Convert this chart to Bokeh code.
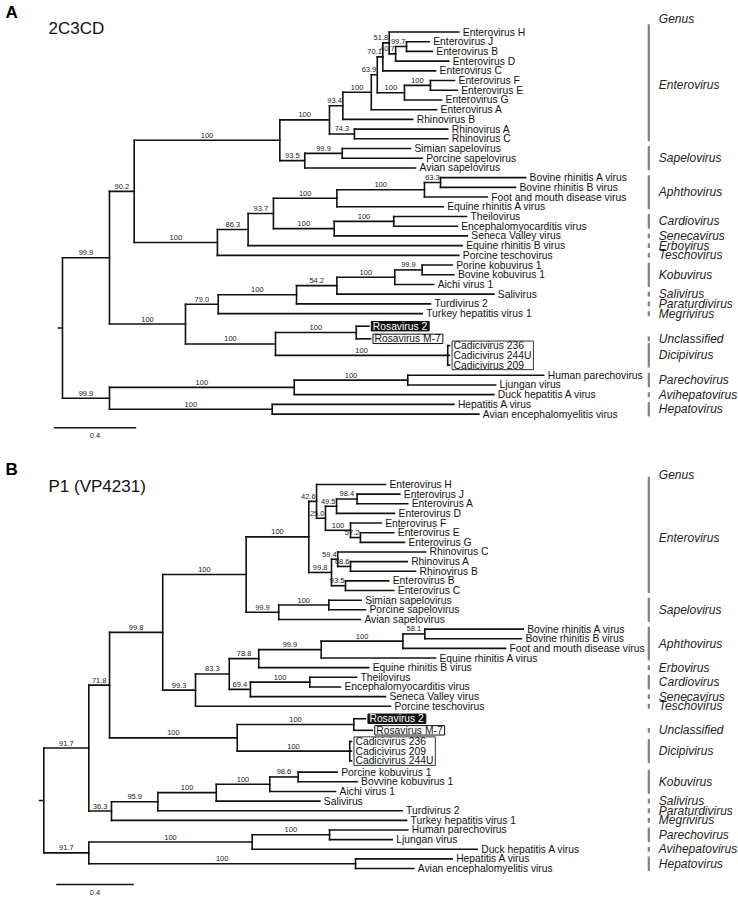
from bokeh.plotting import figure
from bokeh.layouts import column
from bokeh.models import Range1d
from bokeh.embed import file_html
from bokeh.resources import INLINE
from bokeh.core.properties import value

FONT = "Liberation Sans"

# ---------------- Panel A : 2C3CD ----------------
A_title = "2C3CD"
A_leaf_names = ["Enterovirus H", "Enterovirus J", "Enterovirus B", "Enterovirus D", "Enterovirus C",
                "Enterovirus F", "Enterovirus E", "Enterovirus G", "Enterovirus A", "Rhinovirus B",
                "Rhinovirus A", "Rhinovirus C", "Simian sapelovirus", "Porcine sapelovirus",
                "Avian sapelovirus", "Bovine rhinitis A virus", "Bovine rhinitis B virus",
                "Foot and mouth disease virus", "Equine rhinitis A virus", "Theilovirus",
                "Encephalomyocarditis virus", "Seneca Valley virus", "Equine rhinitis B virus",
                "Porcine teschovirus", "Porine kobuvirus 1", "Bovine kobuvirus 1", "Aichi virus 1",
                "Salivirus", "Turdivirus 2", "Turkey hepatitis virus 1", "Rosavirus 2", "Rosavirus M-7",
                "Cadicivirus 236", "Cadicivirus 244U", "Cadicivirus 209", "Human parechovirus",
                "Ljungan virus", "Duck hepatitis A virus", "Hepatitis A virus",
                "Avian encephalomyelitis virus"]
A_leaf_rows = [0, 1, 2, 3, 4, 5, 6, 7, 8, 9, 10, 11, 12, 13, 14, 15, 16, 17, 18, 19, 20, 21, 22, 23,
               24, 25, 26, 27, 28, 29, 30.3, 31.6, 32.3, 33.3, 34.3, 35.35, 36.35, 37.35, 38.35, 39.35]
A_leaf_depth = [1.924, 1.780, 1.795, 1.875, 1.811, 1.903, 1.916, 1.840, 1.816, 1.700, 1.870, 1.870,
                1.689, 1.746, 1.714, 2.248, 2.199, 2.062, 1.848, 1.961, 1.916, 1.965, 1.940, 1.924,
                1.892, 1.900, 1.802, 2.094, 1.786, 1.746, 1.487, 1.495, 1.879, 1.879, 1.879, 2.336,
                2.102, 2.094, 1.900, 2.021]
A_leaf_parent = ["n13", "n15", "n15", "n14", "n11", "n18", "n18", "n12", "n6", "n5", "n7", "n7",
                 "n9", "n9", "n8", "n24", "n24", "n23", "n21", "n25", "n25", "n22", "n19", "n17",
                 "n31", "n31", "n30", "n29", "n28", "n26", "n32", "n32", "n33", "n33", "n33",
                 "n37", "n37", "n35", "n36", "n36"]
A_node_ids = ["r", "n1", "n2", "n3", "n4", "n5", "n6", "n10", "n11", "n13", "n14", "n15", "n12",
              "n18", "n7", "n8", "n9", "n17", "n19", "n20", "n21", "n23", "n24", "n22", "n25",
              "n16", "n26", "n28", "n29", "n30", "n31", "n27", "n32", "n33", "n34", "n35", "n37",
              "n36"]
A_node_parent = [None, "r", "n1", "n2", "n3", "n4", "n5", "n6", "n10", "n11", "n13", "n14", "n10",
                 "n12", "n4", "n3", "n8", "n2", "n17", "n19", "n20", "n21", "n23", "n20", "n22",
                 "n1", "n16", "n26", "n28", "n29", "n30", "n16", "n27", "n27", "r", "n34", "n35",
                 "n34"]
A_node_depth = [0.0, 0.228, 0.348, 1.055, 1.296, 1.361, 1.499, 1.528, 1.555, 1.586, 1.617, 1.670,
                1.660, 1.786, 1.417, 1.176, 1.358, 0.752, 0.901, 1.024, 1.332, 1.757, 1.835, 1.319,
                1.608, 0.597, 0.756, 1.136, 1.332, 1.613, 1.746, 1.034, 1.426, 1.870, 0.228, 1.125,
                1.676, 1.018]
A_node_support = ["", "99.9", "90.2", "100", "100", "93.4", "100", "63.9", "70.1", "51.8", "40.7",
                  "99.7", "100", "100", "74.3", "93.5", "99.9", "100", "86.3", "93.7", "100", "100",
                  "63.3", "100", "100", "100", "79.0", "100", "54.2", "100", "99.9", "100", "100",
                  "100", "99.9", "100", "100", "100"]
A_genus_names = ["Enterovirus", "Sapelovirus", "Aphthovirus", "Cardiovirus", "Senecavirus",
                 "Erbovirus", "Teschovirus", "Kobuvirus", "Salivirus", "Paraturdivirus",
                 "Megrivirus", "Unclassified", "Dicipivirus", "Parechovirus", "Avihepatovirus",
                 "Hepatovirus"]
A_genus_first = ["Enterovirus H", "Simian sapelovirus", "Bovine rhinitis A virus", "Theilovirus",
                 "Seneca Valley virus", "Equine rhinitis B virus", "Porcine teschovirus",
                 "Porine kobuvirus 1", "Salivirus", "Turdivirus 2", "Turkey hepatitis virus 1",
                 "Rosavirus M-7", "Cadicivirus 236", "Human parechovirus", "Duck hepatitis A virus",
                 "Hepatitis A virus"]
A_genus_last = ["Rhinovirus C", "Avian sapelovirus", "Equine rhinitis A virus",
                "Encephalomyocarditis virus", "Seneca Valley virus", "Equine rhinitis B virus",
                "Porcine teschovirus", "Aichi virus 1", "Salivirus", "Turdivirus 2",
                "Turkey hepatitis virus 1", "Rosavirus M-7", "Cadicivirus 209", "Ljungan virus",
                "Duck hepatitis A virus", "Avian encephalomyelitis virus"]

# ---------------- Panel B : P1 (VP4231) ----------------
B_title = "P1 (VP4231)"
B_leaf_names = ["Enterovirus H", "Enterovirus J", "Enterovirus A", "Enterovirus D", "Enterovirus F",
                "Enterovirus E", "Enterovirus G", "Rhinovirus C", "Rhinovirus A", "Rhinovirus B",
                "Enterovirus B", "Enterovirus C", "Simian sapelovirus", "Porcine sapelovirus",
                "Avian sapelovirus", "Bovine rhinitis A virus", "Bovine rhinitis B virus",
                "Foot and mouth disease virus", "Equine rhinitis A virus", "Equine rhinitis B virus",
                "Theilovirus", "Encephalomyocarditis virus", "Seneca Valley virus",
                "Porcine teschovirus", "Rosavirus 2", "Rosavirus M-7", "Cadicivirus 236",
                "Cadicivirus 209", "Cadicivirus 244U", "Porcine kobuvirus 1", "Bovvine kobuvirus 1",
                "Aichi virus 1", "Salivirus", "Turdivirus 2", "Turkey hepatitis virus 1",
                "Human parechovirus", "Ljungan virus", "Duck hepatitis A virus", "Hepatitis A virus",
                "Avian encephalomyelitis virus"]
B_leaf_rows = [0, 1, 2, 3, 4, 5, 6, 7, 8, 9, 10, 11, 12, 13, 14, 15, 16, 17, 18, 19, 20, 21, 22, 23,
               24.3, 25.5, 26.66, 27.66, 28.66, 29.84, 30.84, 31.84, 32.84, 33.84, 34.84, 35.84,
               36.84, 37.84, 38.84, 39.84]
B_leaf_depth = [1.761, 1.835, 1.876, 1.808, 1.739, 1.804, 1.859, 1.968, 1.873, 1.916, 1.778, 1.804,
                1.636, 1.658, 1.632, 2.471, 2.462, 2.380, 2.019, 1.675, 1.612, 1.529, 1.761, 1.787,
                1.658, 1.693, 1.586, 1.586, 1.586, 1.512, 1.615, 1.504, 1.423, 1.847, 1.870, 1.876,
                1.796, 2.234, 2.105, 1.907]
B_leaf_parent = ["b7", "b10", "b10", "b9", "b11", "b12", "b12", "b14", "b16", "b16", "b15", "b15",
                 "b6", "b6", "b5", "b22", "b22", "b21", "b20", "b19", "b24", "b24", "b23", "b17",
                 "b26", "b26", "bc", "bc", "bc", "b31", "b31", "b30", "b29", "b28", "b27", "b34",
                 "b34", "b33", "b35", "b35"]
B_node_ids = ["r", "b0", "b1", "b2", "b3", "b4", "b7", "b8", "b9", "b10", "b11", "b12", "b13",
              "b14", "b16", "b15", "b5", "b6", "b17", "b18", "b19", "b20", "b21", "b22", "b23",
              "b24", "b25", "b26", "bc", "b27", "b28", "b29", "b30", "b31", "b32", "b33", "b34",
              "b35"]
B_node_parent = [None, "r", "b0", "b1", "b2", "b3", "b4", "b7", "b8", "b9", "b8", "b11", "b4",
                 "b13", "b14", "b13", "b3", "b5", "b2", "b17", "b18", "b19", "b20", "b21", "b18",
                 "b23", "b1", "b25", "b25", "b0", "b27", "b28", "b29", "b30", "r", "b32", "b33",
                 "b32"]
B_node_depth = [0.0, 0.232, 0.339, 0.613, 1.043, 1.366, 1.406, 1.452, 1.509, 1.615, 1.581, 1.632,
                1.483, 1.515, 1.581, 1.555, 1.211, 1.469, 0.782, 0.956, 1.108, 1.430, 1.851, 1.964,
                1.065, 1.371, 0.997, 1.598, 1.577, 0.349, 0.588, 0.889, 1.165, 1.311, 0.232, 1.074,
                1.473, 1.607]
B_node_support = ["", "91.7", "71.8", "99.8", "100", "100", "42.6", "25.0", "49.5", "98.4", "100",
                  "57.2", "99.8", "59.4", "68.6", "93.5", "99.9", "100", "99.3", "83.3", "78.8",
                  "99.9", "100", "58.1", "69.4", "100", "100", "100", "100", "36.3", "95.9", "100",
                  "100", "98.6", "91.7", "100", "100", "100"]
B_genus_names = ["Enterovirus", "Sapelovirus", "Aphthovirus", "Erbovirus", "Cardiovirus",
                 "Senecavirus", "Teschovirus", "Unclassified", "Dicipivirus", "Kobuvirus",
                 "Salivirus", "Paraturdivirus", "Megrivirus", "Parechovirus", "Avihepatovirus",
                 "Hepatovirus"]
B_genus_first = ["Enterovirus H", "Simian sapelovirus", "Bovine rhinitis A virus",
                 "Equine rhinitis B virus", "Theilovirus", "Seneca Valley virus",
                 "Porcine teschovirus", "Rosavirus M-7", "Cadicivirus 236", "Porcine kobuvirus 1",
                 "Salivirus", "Turdivirus 2", "Turkey hepatitis virus 1", "Human parechovirus",
                 "Duck hepatitis A virus", "Hepatitis A virus"]
B_genus_last = ["Enterovirus C", "Avian sapelovirus", "Equine rhinitis A virus",
                "Equine rhinitis B virus", "Encephalomyocarditis virus", "Seneca Valley virus",
                "Porcine teschovirus", "Rosavirus M-7", "Cadicivirus 244U", "Aichi virus 1",
                "Salivirus", "Turdivirus 2", "Turkey hepatitis virus 1", "Ljungan virus",
                "Duck hepatitis A virus", "Avian encephalomyelitis virus"]

highlight_filled = ["Rosavirus 2"]
highlight_outlined = ["Rosavirus M-7"]
group_outlined = ["Cadicivirus 236", "Cadicivirus 244U", "Cadicivirus 209"]
scale_length = 0.4

# Arial / Liberation Sans advance widths (1/1000 em) for box sizing
CW = {' ': 278, '.': 278, '-': 333, '(': 333, ')': 333, 'A': 667, 'B': 667, 'C': 722, 'D': 722,
      'E': 667, 'F': 611, 'G': 778, 'H': 722, 'J': 500, 'M': 833, 'P': 667, 'R': 722, 'S': 667,
      'T': 611, 'U': 722, 'V': 667, 'a': 556, 'b': 556, 'c': 500, 'd': 556, 'e': 556, 'f': 278,
      'g': 556, 'h': 556, 'i': 222, 'j': 222, 'k': 500, 'l': 222, 'm': 833, 'n': 556, 'o': 556,
      'p': 556, 'r': 333, 's': 500, 't': 278, 'u': 556, 'v': 500, 'w': 722, 'y': 500}


def tw(s, size):
    return sum(CW.get(c, 556) for c in s) * size / 1000.0


W = 738
LEAF_FS = 10.3
SUP_FS = 7.5
LC = "#111111"


def build(leaf_names, leaf_rows, leaf_depth, leaf_parent, node_ids, node_parent, node_depth):
    depth, ypos, parent = {}, {}, {}
    children = {n: [] for n in node_ids}
    for n, r, d, par in zip(leaf_names, leaf_rows, leaf_depth, leaf_parent):
        depth[n] = d
        ypos[n] = r
        parent[n] = par
        children[par].append(n)
    for n, par, d in zip(node_ids, node_parent, node_depth):
        depth[n] = d
        parent[n] = par
        if par is not None:
            children[par].append(n)

    def gy(n):
        if n not in ypos:
            ys = [gy(c) for c in children[n]]
            ypos[n] = (min(ys) + max(ys)) / 2.0
        return ypos[n]

    for n in node_ids:
        gy(n)
    return depth, ypos, parent, children


def panel(H, x0, ppu, y0, dy, letter, title, letter_xy, title_xy, genus_hdr_y, scale_xy,
          leaf_names, leaf_rows, leaf_depth, leaf_parent, node_ids, node_parent, node_depth,
          node_support, genus_names, genus_first, genus_last):
    # x0, y0: pixel position of root / first row inside the figure; ppu: px per unit; dy: px per row
    px = lambda v: (v - x0) / ppu
    py = lambda v: (v - y0) / dy
    p = figure(width=W, height=H, output_backend="svg", toolbar_location=None,
               x_axis_location=None, y_axis_location=None, min_border=0,
               x_range=Range1d(px(0), px(W)), y_range=Range1d(py(H), py(0)))
    p.grid.visible = False
    p.outline_line_color = None
    p.background_fill_color = "white"
    p.border_fill_color = "white"

    depth, ypos, parent, children = build(leaf_names, leaf_rows, leaf_depth, leaf_parent,
                                          node_ids, node_parent, node_depth)
    items = list(leaf_names) + list(node_ids)
    hx0, hx1, hy = [], [], []
    for n in items:
        if parent[n] is None:
            continue
        hx0.append(depth[parent[n]])
        hx1.append(depth[n])
        hy.append(ypos[n])
    p.segment(x0=hx0, y0=hy, x1=hx1, y1=hy, line_color=LC, line_width=1.6, line_cap="square")
    vx, vy0, vy1 = [], [], []
    for n in node_ids:
        ys = [ypos[c] for c in children[n]]
        vx.append(depth[n])
        vy0.append(min(ys))
        vy1.append(max(ys))
    p.segment(x0=vx, y0=vy0, x1=vx, y1=vy1, line_color=LC, line_width=1.6, line_cap="square")
    root = node_ids[0]
    p.segment(x0=[-5.0 / ppu], y0=[ypos[root]], x1=[0], y1=[ypos[root]], line_color=LC,
              line_width=1.6)

    # support values
    sx, sy, st, sa = [], [], [], []
    for n, s in zip(node_ids, node_support):
        if not s or parent[n] is None:
            continue
        a, b = depth[parent[n]], depth[n]
        if (b - a) * ppu < 16:
            sx.append(b - 1.0 / ppu)
            sa.append("right")
        else:
            sx.append((a + b) / 2.0)
            sa.append("center")
        sy.append(ypos[n])
        st.append(s)
    p.text(x=sx, y=sy, text=st, text_align=sa, text_baseline="bottom", y_offset=-2.5,
           text_font=value(FONT), text_font_size=f"{SUP_FS}px", text_color="#1a1a1a")

    # highlight boxes behind labels
    gap = 2.5
    bl, br, bt, bb, bf, bln = [], [], [], [], [], []
    for n in highlight_filled + highlight_outlined:
        if n not in ypos:
            continue
        left = depth[n] + gap / ppu
        bl.append(left)
        br.append(left + (tw(n, LEAF_FS) + 3.5) / ppu)
        bt.append(ypos[n] - 4.7 / dy)
        bb.append(ypos[n] + 4.7 / dy)
        bf.append("#111111" if n in highlight_filled else "white")
        bln.append("#111111")
    grp = [n for n in group_outlined if n in ypos]
    if grp:
        left = max(depth[n] for n in grp) + gap / ppu
        bl.append(left)
        br.append(left + (max(tw(n, LEAF_FS) for n in grp) + 3.5) / ppu)
        bt.append(min(ypos[n] for n in grp) - 4.6 / dy)
        bb.append(max(ypos[n] for n in grp) + 4.6 / dy)
        bf.append("white")
        bln.append("#333333")
    p.quad(left=bl, right=br, top=bt, bottom=bb, fill_color=bf, line_color=bln, line_width=1)

    # leaf labels
    lcol = ["white" if n in highlight_filled else "#111111" for n in leaf_names]
    p.text(x=leaf_depth, y=leaf_rows, text=leaf_names, x_offset=4, text_baseline="middle",
           text_font=value(FONT), text_font_size=f"{LEAF_FS}px", text_color=lcol)

    # genus column
    gx = px(648.3)
    gy0, gy1, gyc = [], [], []
    for i, (f, l) in enumerate(zip(genus_first, genus_last)):
        top = ypos[f] - (0.8 if i == 0 else 0.25)
        bot = ypos[l] + 0.25
        gy0.append(top)
        gy1.append(bot)
        gyc.append((ypos[f] + ypos[l]) / 2.0)
    p.segment(x0=[gx] * len(gy0), y0=gy0, x1=[gx] * len(gy0), y1=gy1, line_color="#808080",
              line_width=2.2)
    p.text(x=[px(658.3)] * len(gyc), y=gyc, text=genus_names, text_baseline="middle",
           text_font=value(FONT), text_font_size="12px", text_font_style="italic",
           text_color="#222222")
    p.text(x=[px(658.3)], y=[py(genus_hdr_y)], text=["Genus"], text_baseline="middle",
           text_font=value(FONT), text_font_size="12px", text_font_style="italic",
           text_color="#222222")

    # panel letter and title
    p.text(x=[px(letter_xy[0])], y=[py(letter_xy[1])], text=[letter], text_baseline="middle",
           text_font=value(FONT), text_font_size="17px", text_font_style="bold",
           text_color="black")
    p.text(x=[px(title_xy[0])], y=[py(title_xy[1])], text=[title], text_baseline="middle",
           text_font=value(FONT), text_font_size="17px", text_color="#111111")

    # scale bar
    sbx, sby = px(scale_xy[0]), py(scale_xy[1])
    p.segment(x0=[sbx], y0=[sby], x1=[sbx + scale_length], y1=[sby], line_color=LC,
              line_width=1.6)
    p.text(x=[sbx + scale_length / 2], y=[sby], text=[f"{scale_length}"], text_align="center",
           text_baseline="top", y_offset=5, text_font=value(FONT),
           text_font_size=f"{SUP_FS}px", text_color="#222222")
    return p


pA = panel(450, 62.0, 206.0, 31.5, 9.71, "A", A_title, (5.0, 12.0), (48.0, 27.7), 18.3,
           (53.3, 427.3),
           A_leaf_names, A_leaf_rows, A_leaf_depth, A_leaf_parent, A_node_ids, A_node_parent,
           A_node_depth, A_node_support, A_genus_names, A_genus_first, A_genus_last)
pB = panel(450, 43.3, 194.0, 34.0, 9.64, "B", B_title, (5.0, 19.0), (48.0, 36.0), 24.0,
           (55.7, 434.0),
           B_leaf_names, B_leaf_rows, B_leaf_depth, B_leaf_parent, B_node_ids, B_node_parent,
           B_node_depth, B_node_support, B_genus_names, B_genus_first, B_genus_last)

layout = column(pA, pB, spacing=0)
open("out.html", "w").write(file_html(layout, INLINE))
